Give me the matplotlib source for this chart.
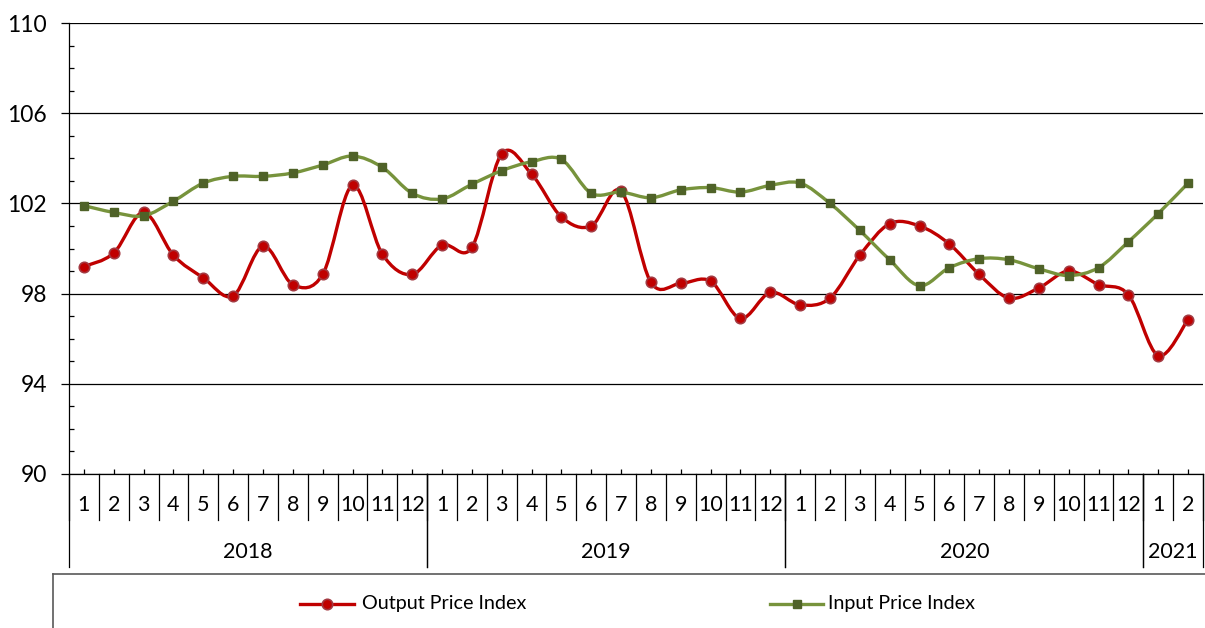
import matplotlib
matplotlib.use("Agg")
import matplotlib.pyplot as plt
import numpy as np
from matplotlib.path import Path
from matplotlib.patches import PathPatch
from matplotlib.lines import Line2D

plt.rcParams['font.family'] = ['Lato', 'DejaVu Sans']

# Data (monthly indices, Jan 2018 - Feb 2021)
months = [str(m) for m in range(1, 13)] * 3 + ['1', '2']
years = ['2018', '2019', '2020', '2021']
year_lengths = [12, 12, 12, 2]

output_idx = [99.2, 99.8, 101.6, 99.7, 98.7, 97.9, 100.1, 98.4, 98.85, 102.8, 99.75, 98.85,
              100.15, 100.05, 104.2, 103.3, 101.4, 101.0, 102.55, 98.5, 98.45, 98.55, 96.9, 98.05,
              97.5, 97.8, 99.7, 101.1, 101.0, 100.2, 98.85, 97.8, 98.25, 99.0, 98.4, 97.95,
              95.25, 96.85]
input_idx = [101.9, 101.6, 101.45, 102.1, 102.9, 103.2, 103.2, 103.35, 103.7, 104.1, 103.6, 102.45,
             102.2, 102.85, 103.45, 103.85, 103.95, 102.45, 102.5, 102.25, 102.6, 102.7, 102.5, 102.8,
             102.9, 102.0, 100.8, 99.5, 98.35, 99.15, 99.55, 99.5, 99.1, 98.8, 99.15, 100.3,
             101.55, 102.9]

RED = '#C00000'
GREEN = '#77933C'
DARK_GREEN = '#4F6228'


def smooth_path(x, y):
    # Excel-like smoothed line: Catmull-Rom segments as cubic Bezier curves
    n = len(x)
    verts = [(x[0], y[0])]
    codes = [Path.MOVETO]
    for i in range(n - 1):
        x0, y0 = (x[i - 1], y[i - 1]) if i > 0 else (x[i], y[i])
        x3, y3 = (x[i + 2], y[i + 2]) if i + 2 < n else (x[i + 1], y[i + 1])
        c1 = (x[i] + (x[i + 1] - x0) / 6, y[i] + (y[i + 1] - y0) / 6)
        c2 = (x[i + 1] - (x3 - x[i]) / 6, y[i + 1] - (y3 - y[i]) / 6)
        verts += [c1, c2, (x[i + 1], y[i + 1])]
        codes += [Path.CURVE4] * 3
    return Path(verts, codes)


W, H = 1205, 628
fig = plt.figure(figsize=(W / 100, H / 100), dpi=100)
ax = fig.add_axes([69 / W, 1 - 474 / H, (1203 - 69) / W, (474 - 23) / H])

x = np.arange(len(output_idx))

ax.add_patch(PathPatch(smooth_path(x, output_idx), fill=False, edgecolor=RED, lw=2.4,
                       capstyle='round', joinstyle='round', zorder=3))
ax.plot(x, output_idx, ls='none', marker='o', ms=7.5, mfc=RED, mec='#A33A42', mew=1.2, zorder=4)
ax.add_patch(PathPatch(smooth_path(x, input_idx), fill=False, edgecolor=GREEN, lw=2.4,
                       capstyle='round', joinstyle='round', zorder=5))
ax.plot(x, input_idx, ls='none', marker='s', ms=5.5, mfc=DARK_GREEN, mec=DARK_GREEN, zorder=6)

ax.set_xlim(-0.5, len(x) - 0.5)
ax.set_ylim(90, 110)
ax.set_yticks(np.arange(90, 111, 4))
ax.set_yticks(np.arange(90, 111, 1), minor=True)
ax.yaxis.grid(True, which='major', color='black', lw=0.9)
ax.set_axisbelow(True)
ax.tick_params(axis='y', which='major', direction='out', length=6, width=0.9,
               labelsize=16.5, pad=10)
ax.tick_params(axis='y', which='minor', direction='in', length=3.5, width=0.9)
ax.set_xticks(x)
ax.set_xticklabels([])
ax.tick_params(axis='x', which='major', direction='in', length=3.5, width=0.9)
for s in ['top', 'right']:
    ax.spines[s].set_visible(False)
for s in ['left', 'bottom']:
    ax.spines[s].set_linewidth(0.9)

# Multi-level category axis
trans = ax.get_xaxis_transform()
for i, m in enumerate(months):
    ax.text(i, -0.068, m, transform=trans, ha='center', va='center', fontsize=15.5, clip_on=False)
for b in np.arange(len(months) + 1) - 0.5:
    ax.plot([b, b], [0, -0.102], transform=trans, color='black', lw=0.9, clip_on=False)
start = 0
for yr, n in zip(years, year_lengths):
    ax.text(start + n / 2 - 0.5, -0.173, yr, transform=trans, ha='center', va='center',
            fontsize=15.5, clip_on=False)
    for b in (start - 0.5, start + n - 0.5):
        ax.plot([b, b], [0, -0.206], transform=trans, color='black', lw=0.9, clip_on=False)
    start += n

# Legend box and entries
box_top = 1 - 574 / H
fig.add_artist(Line2D([53 / W, 53 / W], [box_top, 0], color='#595959', lw=1.2))
fig.add_artist(Line2D([53 / W, 1], [box_top, box_top], color='#595959', lw=1.2))
ly = 1 - 604 / H
fig.add_artist(Line2D([300 / W, 354 / W], [ly, ly], color=RED, lw=2.4))
fig.add_artist(Line2D([327 / W], [ly], ls='none', marker='o', ms=7.5, mfc=RED, mec='#A33A42', mew=1.2))
fig.text(362 / W, ly, 'Output Price Index', ha='left', va='center', fontsize=14.2)
fig.add_artist(Line2D([770 / W, 823 / W], [ly, ly], color=GREEN, lw=2.4))
fig.add_artist(Line2D([797 / W], [ly], ls='none', marker='s', ms=5.5, mfc=DARK_GREEN, mec=DARK_GREEN))
fig.text(828 / W, ly, 'Input Price Index', ha='left', va='center', fontsize=14.2)

fig.savefig('out.png', dpi=100)
